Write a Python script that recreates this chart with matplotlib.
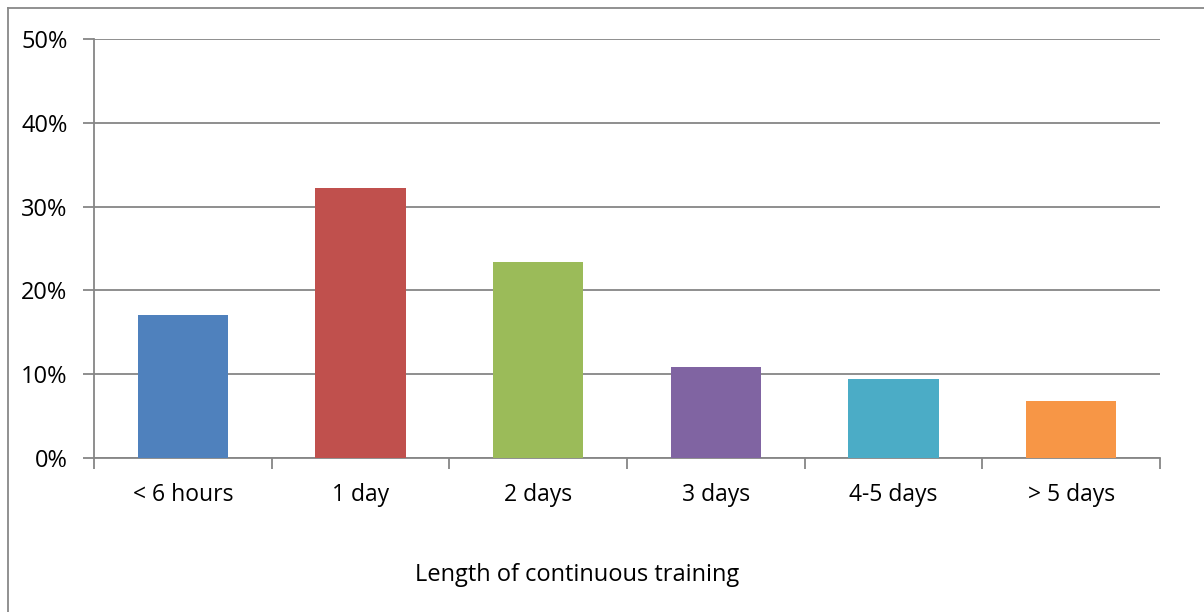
import matplotlib.pyplot as plt
from matplotlib.lines import Line2D
from matplotlib.ticker import FuncFormatter, FixedLocator

plt.rcParams['font.family'] = ['Open Sans', 'DejaVu Sans']

categories = ['< 6 hours', '1 day', '2 days', '3 days', '4-5 days', '> 5 days']
shares = [17.1, 32.2, 23.4, 10.9, 9.4, 6.8]
colors = ['#4f81bd', '#c0504d', '#9bbb59', '#8064a2', '#4bacc6', '#f79646']
y_ticks = [0, 10, 20, 30, 40, 50]

W, H = 1204, 612
fig = plt.figure(figsize=(W / 100, H / 100), dpi=100)
ax = fig.add_axes([94 / W, 1 - 458 / H, (1160 - 94) / W, (458 - 39) / H])

x = list(range(len(categories)))
ax.bar(x, shares, width=0.51, color=colors, zorder=3)

ax.set_xlim(-0.5, len(categories) - 0.5)
ax.set_ylim(0, 50)
ax.set_yticks(y_ticks)
ax.yaxis.set_major_formatter(FuncFormatter(lambda v, p: f'{v:.0f}%'))
ax.grid(axis='y', color='#868686', linewidth=1.3, zorder=0)

# category boundaries as ticks, labels in the middle
ax.xaxis.set_major_locator(FixedLocator([i - 0.5 for i in range(len(categories) + 1)]))
ax.xaxis.set_minor_locator(FixedLocator(x))
ax.set_xticklabels([])
ax.set_xticklabels(categories, minor=True)
ax.tick_params(axis='x', which='major', length=8, width=1.3, color='#868686')
ax.tick_params(axis='x', which='minor', length=0, pad=18, labelsize=16.5)
ax.tick_params(axis='y', length=8, width=1.3, color='#868686', labelsize=17, pad=11)

for side in ['top', 'right']:
    ax.spines[side].set_visible(False)
for side in ['left', 'bottom']:
    ax.spines[side].set_color('#868686')
    ax.spines[side].set_linewidth(1.3)

fig.text(577 / W, 1 - 575 / H, 'Length of continuous training', ha='center', va='center', fontsize=17)

# outer chart frame (left and top edges visible)
fig.add_artist(Line2D([8 / W, 8 / W], [0, 1 - 8 / H], color='#888888', linewidth=1.3))
fig.add_artist(Line2D([8 / W, 1], [1 - 8 / H, 1 - 8 / H], color='#888888', linewidth=1.3))

fig.savefig('out.png', dpi=100)
